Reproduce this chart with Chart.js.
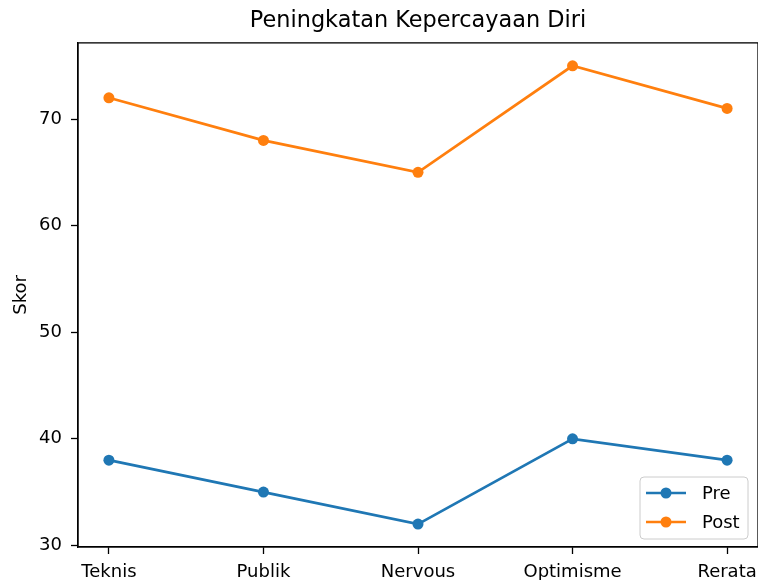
<!DOCTYPE html>
<html>
<head>
<meta charset="utf-8">
<script src="https://cdn.jsdelivr.net/npm/chart.js@4.4.0/dist/chart.umd.min.js"></script>
<style>
  html, body { margin: 0; padding: 0; background: #fff; }
  #wrap { width: 758px; height: 580px; }
</style>
</head>
<body>
<div id="wrap"><canvas id="chart" width="758" height="580"></canvas></div>
<script>
// data
const categories = ["Teknis", "Publik", "Nervous", "Optimisme", "Rerata"];
const preScores = [38, 35, 32, 40, 38];
const postScores = [72, 68, 65, 75, 71];
const yTicks = [30, 40, 50, 60, 70];

const FONT = "DejaVu Sans";
const BLUE = "#1f77b4";
const ORANGE = "#ff7f0e";

//turn a list of values into x/y points on category index
function toPoints(values) {
  return values.map((v, i) => ({ x: i, y: v }));
}

//Box round the plot area, like matplotlib spines
const framePlugin = {
  id: "frame",
  afterDraw(chart) {
    const { ctx, chartArea: a } = chart;
    ctx.save();
    ctx.strokeStyle = "#000";
    ctx.lineWidth = 1.3;
    ctx.strokeRect(a.left, a.top, a.right - a.left, a.bottom - a.top);
    ctx.restore();
  },
};

//Legend in the lower right corner of the plot
const legendPlugin = {
  id: "cornerLegend",
  afterDatasetsDraw(chart) {
    const { ctx, chartArea: a } = chart;
    const w = 108, h = 62;
    const left = a.right - 10 - w;
    const top = a.bottom - 8 - h;
    ctx.save();
    ctx.beginPath();
    ctx.roundRect(left, top, w, h, 4);
    ctx.fillStyle = "rgba(255,255,255,0.8)";
    ctx.fill();
    ctx.strokeStyle = "#cccccc";
    ctx.lineWidth = 1;
    ctx.stroke();
    chart.data.datasets.forEach((ds, i) => {
      const y = top + 16 + i * 29;
      ctx.strokeStyle = ds.borderColor;
      ctx.lineWidth = 2.7;
      ctx.beginPath();
      ctx.moveTo(left + 6, y);
      ctx.lineTo(left + 46, y);
      ctx.stroke();
      ctx.fillStyle = ds.borderColor;
      ctx.beginPath();
      ctx.arc(left + 26, y, 5.5, 0, Math.PI * 2);
      ctx.fill();
      ctx.fillStyle = "#000";
      ctx.font = "18px '" + FONT + "'";
      ctx.textBaseline = "middle";
      ctx.textAlign = "left";
      ctx.fillText(ds.label, left + 62, y + 1);
    });
    ctx.restore();
  },
};

const ctx = document.getElementById("chart").getContext("2d");
new Chart(ctx, {
  type: "line",
  data: {
    datasets: [
      {
        label: "Pre",
        data: toPoints(preScores),
        borderColor: BLUE,
        backgroundColor: BLUE,
        borderWidth: 2.7,
        pointRadius: 5.5,
        pointBorderWidth: 0,
        pointBackgroundColor: BLUE,
        tension: 0,
      },
      {
        label: "Post",
        data: toPoints(postScores),
        borderColor: ORANGE,
        backgroundColor: ORANGE,
        borderWidth: 2.7,
        pointRadius: 5.5,
        pointBorderWidth: 0,
        pointBackgroundColor: ORANGE,
        tension: 0,
      },
    ],
  },
  options: {
    responsive: false,
    animation: false,
    layout: { padding: 0, autoPadding: false },
    plugins: {
      legend: { display: false },
      tooltip: { enabled: false },
      title: {
        display: true,
        fullSize: false,
        text: "Peningkatan Kepercayaan Diri",
        color: "#000",
        font: { family: FONT, size: 22.4, weight: "normal" },
        padding: { top: 8, bottom: 8 },
      },
    },
    scales: {
      x: {
        type: "linear",
        min: -0.2,
        max: 4.2,
        afterBuildTicks: (scale) => {
          scale.ticks = categories.map((_, i) => ({ value: i }));
        },
        afterFit: (scale) => {
          scale.height = 33;
          scale.paddingLeft = 0;
          scale.paddingRight = 0;
        },
        ticks: {
          color: "#000",
          font: { family: FONT, size: 18 },
          padding: 8,
          maxRotation: 0,
          autoSkip: false,
          callback: (value) => categories[value],
        },
        grid: {
          display: true,
          drawOnChartArea: false,
          drawTicks: true,
          tickLength: 7,
          tickWidth: 1.3,
          tickColor: "#000",
        },
        border: { display: true, color: "#000", width: 1.3 },
      },
      y: {
        min: 29.85,
        max: 77.15,
        afterBuildTicks: (scale) => {
          scale.ticks = yTicks.map((v) => ({ value: v }));
        },
        afterFit: (scale) => {
          scale.width = 78;
          scale.paddingTop = 0;
          scale.paddingBottom = 0;
        },
        ticks: {
          color: "#000",
          font: { family: FONT, size: 18 },
          padding: 9,
        },
        grid: {
          display: true,
          drawOnChartArea: false,
          drawTicks: true,
          tickLength: 7,
          tickWidth: 1.3,
          tickColor: "#000",
        },
        border: { display: true, color: "#000", width: 1.3 },
        title: {
          display: true,
          text: "Skor",
          color: "#000",
          font: { family: FONT, size: 18 },
          padding: { top: 11, bottom: 0 },
        },
      },
    },
  },
  plugins: [framePlugin, legendPlugin],
});
</script>
</body>
</html>
